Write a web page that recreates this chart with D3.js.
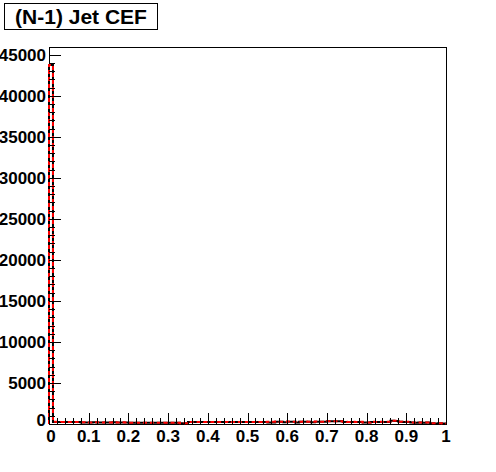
<!DOCTYPE html>
<html>
<head>
<meta charset="utf-8" />
<title>(N-1) Jet CEF</title>
<script src="https://cdn.jsdelivr.net/npm/d3@7/dist/d3.min.js"></script>
<style>
body { margin: 0; background: #fff; }
text { font-family: "Liberation Sans", Arial, sans-serif; font-weight: bold; }
</style>
</head>
<body>
<div id="chart"></div>
<script>
// histogram: 100 bins on [0,1]
const binLow = 0, binHigh = 1, nBins = 100;
const yTicks = [0, 5000, 10000, 15000, 20000, 25000, 30000, 35000, 40000, 45000];
const xTicks = [0, 0.1, 0.2, 0.3, 0.4, 0.5, 0.6, 0.7, 0.8, 0.9, 1];
const titleText = "(N-1) Jet CEF";

// red dashed histogram
const countsRed = [
  43750, 260, 250, 255, 245, 250, 240, 245,
  205, 200, 195, 210, 200, 190, 200, 195, 205, 190, 200, 195,
  160, 150, 155, 150, 145, 160, 150, 155, 150, 160, 150, 145, 150,
  90, 100,
  245, 250, 240, 255, 245, 250, 240, 250, 245, 255, 250, 240, 245, 250, 255, 240, 250, 245, 250, 255,
  280, 270, 290, 285, 275, 290, 280, 270, 285, 290, 280, 275, 290, 285, 280,
  340, 330, 345, 335,
  260, 250, 265, 255, 260,
  180, 190,
  260, 255, 265, 250, 260,
  400, 390,
  270, 260, 265,
  180, 175, 185, 170, 180,
  90, 80, 85, 75
];
// black solid histogram
const countsBlack = [
  43750, 250, 245, 250, 240, 245, 235, 240,
  195, 190, 190, 200, 195, 185, 190, 190, 200, 185, 190, 190,
  150, 145, 150, 140, 140, 150, 145, 150, 145, 150, 145, 140, 145,
  85, 95,
  235, 240, 230, 245, 235, 240, 230, 240, 235, 245, 240, 230, 235, 240, 245, 230, 240, 235, 240, 245,
  190, 180, 260, 270, 200, 280, 270, 190, 275, 280, 270, 200, 280, 275, 270,
  330, 320, 335, 325,
  250, 240, 255, 245, 250,
  170, 180,
  250, 245, 255, 240, 250,
  390, 380,
  260, 250, 255,
  170, 165, 175, 160, 170,
  80, 75, 80, 70
];

const W = 496, H = 472;
const frame = { left: 49, top: 47, right: 446, bottom: 424 };
const yMax = 45937;

const svg = d3.select("#chart").append("svg")
  .attr("width", W).attr("height", H);

const x = d3.scaleLinear().domain([binLow, binHigh]).range([frame.left, frame.right]);
const y = d3.scaleLinear().domain([0, yMax]).range([frame.bottom, frame.top]);

const binW = (binHigh - binLow) / nBins;
function stepPath(counts) {
  const pts = [[x(binLow), y(0)]];
  counts.forEach(function(c, i) {
    pts.push([x(binLow + i * binW), y(c)]);
    pts.push([x(binLow + (i + 1) * binW), y(c)]);
  });
  pts.push([x(binHigh), y(0)]);
  return d3.line()(pts);
}

// frame
svg.append("rect")
  .attr("x", frame.left + 0.5).attr("y", frame.top + 0.5)
  .attr("width", frame.right - frame.left).attr("height", frame.bottom - frame.top)
  .attr("fill", "none").attr("stroke", "#000").attr("stroke-width", 1);

// histograms
svg.append("path").attr("d", stepPath(countsBlack))
  .attr("fill", "none").attr("stroke", "#000").attr("stroke-width", 2);
svg.append("path").attr("d", stepPath(countsRed))
  .attr("fill", "none").attr("stroke", "#ff0000").attr("stroke-width", 2)
  .attr("stroke-dasharray", "4,3");

// x axis ticks
const xMinor = d3.range(0, 51).map(d => d * 0.02);
const gx = svg.append("g");
gx.selectAll("line.minor").data(xMinor).enter().append("line")
  .attr("x1", d => Math.round(x(d)) + 0.5).attr("x2", d => Math.round(x(d)) + 0.5)
  .attr("y1", frame.bottom).attr("y2", frame.bottom - 6)
  .attr("stroke", "#000");
gx.selectAll("line.major").data(xTicks).enter().append("line")
  .attr("x1", d => Math.round(x(d)) + 0.5).attr("x2", d => Math.round(x(d)) + 0.5)
  .attr("y1", frame.bottom).attr("y2", frame.bottom - 11)
  .attr("stroke", "#000");
gx.selectAll("text").data(xTicks).enter().append("text")
  .attr("x", d => x(d) + (d === 0 ? 2 : 0)).attr("y", frame.bottom + 18)
  .attr("text-anchor", "middle").attr("font-size", 17)
  .text(d => d3.format("")(d));

// y axis ticks
const yMinor = d3.range(0, 46).map(d => d * 1000);
const gy = svg.append("g");
gy.selectAll("line.minor").data(yMinor).enter().append("line")
  .attr("x1", frame.left).attr("x2", frame.left + 6)
  .attr("y1", d => Math.round(y(d)) + 0.5).attr("y2", d => Math.round(y(d)) + 0.5)
  .attr("stroke", "#000");
gy.selectAll("line.major").data(yTicks).enter().append("line")
  .attr("x1", frame.left).attr("x2", frame.left + 12)
  .attr("y1", d => Math.round(y(d)) + 0.5).attr("y2", d => Math.round(y(d)) + 0.5)
  .attr("stroke", "#000");
gy.selectAll("text").data(yTicks).enter().append("text")
  .attr("x", frame.left - 3).attr("y", d => y(d) + (d === 0 ? 2 : 6))
  .attr("text-anchor", "end").attr("font-size", 17)
  .text(d => d);

// title box
const title = svg.append("g");
title.append("rect")
  .attr("x", 4.5).attr("y", 3.5).attr("width", 153).attr("height", 26)
  .attr("fill", "#fff").attr("stroke", "#000");
title.append("text")
  .attr("x", 81).attr("y", 23.5)
  .attr("text-anchor", "middle").attr("font-size", 21)
  .text(titleText);
</script>
</body>
</html>
